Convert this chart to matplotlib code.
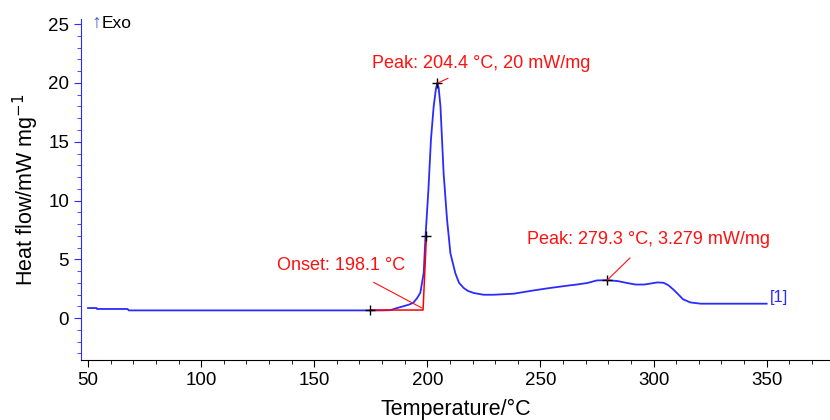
import numpy as np
import matplotlib
matplotlib.use('Agg')
import matplotlib.pyplot as plt
from matplotlib.ticker import MultipleLocator

plt.rcParams['font.family'] = ['Liberation Sans', 'DejaVu Sans']

# DSC curve
temp = [50, 53.8, 54, 67.5, 68, 100, 150, 175, 180, 183.6, 186.6, 189.4, 192, 193.8,
        195.5, 196.9, 198.4, 199.1, 200.5, 201.6, 202.8, 203.8, 204.4, 205, 205.8,
        207.2, 208.7, 210.2, 212.4, 214, 216.1, 218, 220.5, 224.9, 229.2, 238.2,
        247, 254, 261.8, 266, 270.7, 275, 279.3, 284, 288.6, 292, 296, 301.7,
        304.4, 306.5, 308.9, 311, 313, 316.2, 320.8, 330, 350]
heat = [0.85, 0.85, 0.77, 0.77, 0.65, 0.65, 0.65, 0.65, 0.65, 0.67, 0.85, 1.0, 1.15, 1.3,
        1.7, 2.15, 3.85, 6.66, 11.0, 15.2, 18.0, 19.5, 20.0, 19.6, 18.0,
        12.3, 8.4, 5.5, 3.8, 3.0, 2.55, 2.3, 2.13, 1.98, 1.98, 2.07,
        2.35, 2.55, 2.75, 2.85, 2.98, 3.2, 3.22, 3.15, 2.97, 2.85, 2.85, 3.03,
        3.0, 2.8, 2.4, 2.0, 1.6, 1.33, 1.22, 1.22, 1.22]

# onset construction (baseline + tangent)
onset_x = [174.8, 198.1, 199.6]
onset_y = [0.68, 0.68, 6.95]

# marker points
mark_x = [174.8, 199.6, 204.4, 279.3]
mark_y = [0.65, 6.95, 20.0, 3.22]

fig = plt.figure(figsize=(8.3, 4.2), dpi=100)
ax = fig.add_axes([0.0976, 0.1429, 0.9024, 0.812])

ax.plot(temp, heat, color='#2b2bff', lw=1.3)
ax.plot(onset_x, onset_y, color='red', lw=1.1)
ax.plot(mark_x, mark_y, '+', color='black', ms=7, mew=1)

red = '#ff1010'
ax.annotate('Peak: 204.4 °C, 20 mW/mg', xy=(204.6, 20.0), xytext=(224, 21.7),
            ha='center', va='center', color=red, fontsize=13,
            arrowprops=dict(arrowstyle='-', color=red, lw=0.8,
                            shrinkA=7, shrinkB=0))
ax.annotate('Onset: 198.1 °C', xy=(197.6, 0.85), xytext=(162, 4.5),
            ha='center', va='center', color=red, fontsize=13,
            arrowprops=dict(arrowstyle='-', color=red, lw=0.8,
                            shrinkA=9, shrinkB=0))
ax.annotate('Peak: 279.3 °C, 3.279 mW/mg', xy=(279.5, 3.22), xytext=(297.8, 6.66),
            ha='center', va='center', color=red, fontsize=13,
            arrowprops=dict(arrowstyle='-', color=red, lw=0.8,
                            shrinkA=7, shrinkB=0))

ax.text(351.5, 1.75, '[1]', color='#2b2bff', fontsize=12, va='center', ha='left')
ax.text(51.5, 25.1, '\u2191', color='#3a5fd0', fontsize=14, va='center', ha='left')
ax.text(56, 25.1, 'Exo', color='black', fontsize=12.5, va='center', ha='left')

ax.set_xlim(46.9, 378)
ax.set_ylim(-3.57, 25.45)
ax.xaxis.set_major_locator(MultipleLocator(50))
ax.xaxis.set_minor_locator(MultipleLocator(10))
ax.yaxis.set_major_locator(MultipleLocator(5))
ax.yaxis.set_minor_locator(MultipleLocator(1))

for s in ['top', 'right']:
    ax.spines[s].set_visible(False)
ax.spines['left'].set_color('#2b2bff')
ax.spines['bottom'].set_color('black')
ax.tick_params(axis='y', which='both', colors='#2b2bff', labelcolor='black', labelsize=13.5)
ax.tick_params(axis='y', which='major', length=5)
ax.tick_params(axis='y', which='minor', length=3)
ax.tick_params(axis='x', which='major', length=5, labelsize=13.5)
ax.tick_params(axis='x', which='minor', length=3)

ax.set_xlabel('Temperature/°C', fontsize=15.5, labelpad=7)
ax.set_ylabel('Heat flow/mW mg$^{-1}$', fontsize=15.5, labelpad=5)

fig.savefig('out.png', dpi=100)
